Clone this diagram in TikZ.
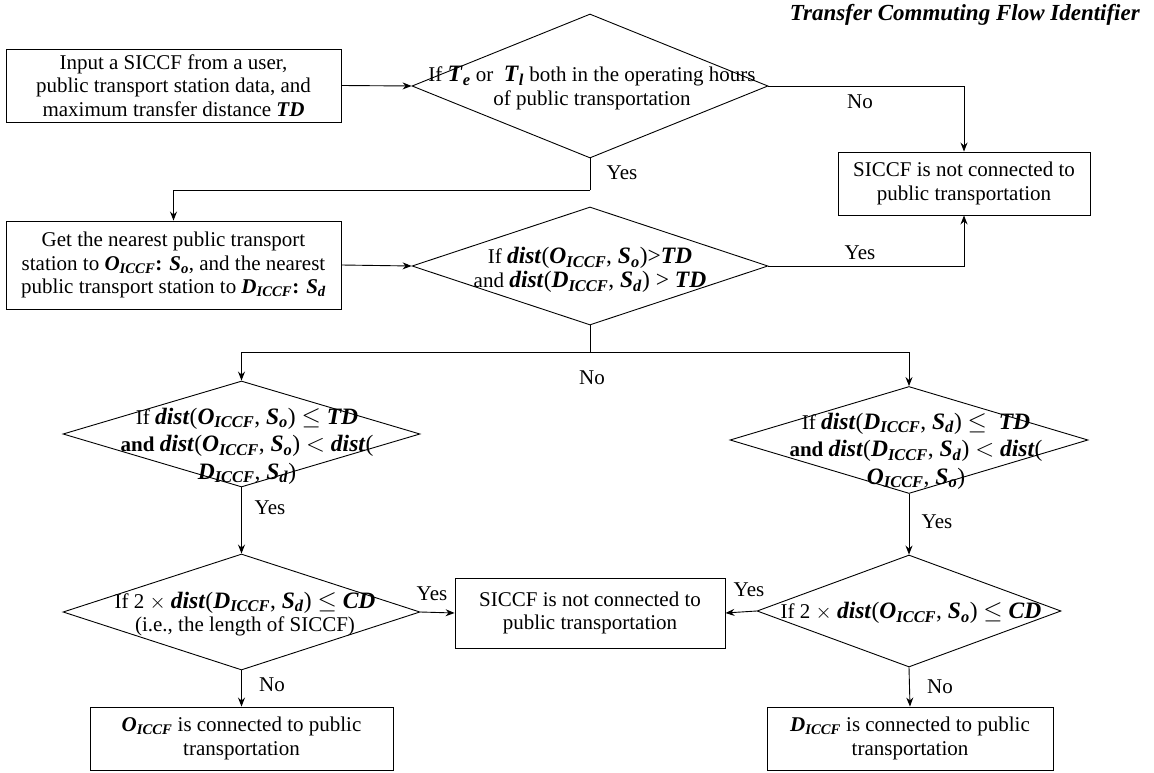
\documentclass[tikz,border=0pt]{standalone}
\usepackage{fontspec}
\setmainfont{Liberation Serif}
\usetikzlibrary{shapes.geometric,arrows.meta}

% bold italic variables used in the conditions
\newcommand\fcbi[1]{\textbf{\textit{#1}}}
\newcommand\fcsub[1]{\textsubscript{\fcbi{#1}}}
\newcommand\fcdist{\fcbi{dist}}
\newcommand\fcO{\fcbi{O}\fcsub{ICCF}}
\newcommand\fcD{\fcbi{D}\fcsub{ICCF}}
\newcommand\fcSo{\fcbi{S}\fcsub{o}}
\newcommand\fcSd{\fcbi{S}\fcsub{d}}
\newcommand\fcTD{\fcbi{TD}}
\newcommand\fcCD{\fcbi{CD}}
% formulas inside the decisions are set a little larger
\newcommand\fcm[1]{{\fontsize{23.5}{23.5}\selectfont #1}}

\tikzset{
  base/.style={font=\fontsize{21}{23.5}\selectfont},
  procbox/.style={base, draw, line width=0.9pt, align=center, inner sep=0pt},
  decide/.style={draw, diamond, line width=0.9pt, inner sep=0pt},
  dtext/.style={base, align=center, inner sep=0pt},
  tallrows/.style={font=\fontsize{21}{27.5}\selectfont},
  flow/.style={line width=0.9pt, -{Stealth[length=9pt,width=7pt,inset=3pt]}},
  link/.style={line width=0.9pt},
  tag/.style={base, inner sep=0pt}
}

\begin{document}
\begin{tikzpicture}[x=1pt,y=-1pt]
\useasboundingbox (0,0) rectangle (1154,773);

% title
\node[font=\fontsize{23}{26}\selectfont\bfseries\itshape, anchor=east, inner sep=0pt] (title) at (1140,15) {Transfer Commuting Flow Identifier};

% process boxes
\node[procbox, minimum width=335pt, minimum height=73pt] (b1) at (173.5,85.5)
  {Input a SICCF from a user,\\ public transport station data, and\\ maximum transfer distance \fcTD};
\node[procbox, minimum width=335pt, minimum height=88pt] (b2) at (173.5,265)
  {Get the nearest public transport\\ station to \fcO\textbf{:} \fcSo, and the nearest\\ public transport station to \fcD\textbf{:} \fcSd};
\node[procbox, minimum width=252pt, minimum height=63pt] (rb) at (964,183.5)
  {SICCF is not connected to\\ public transportation};
\node[procbox, minimum width=270pt, minimum height=70pt] (mb) at (590,613)
  {SICCF is not connected to\\ public transportation};
\node[procbox, minimum width=303pt, minimum height=63pt] (bl) at (241.5,738.5)
  {\fcO{} is connected to public\\ transportation};
\node[procbox, minimum width=286pt, minimum height=63pt] (br) at (910,738.5)
  {\fcD{} is connected to public\\ transportation};

% decisions
\node[decide, minimum width=356pt, minimum height=144pt] (d1) at (590,86) {};
\node[dtext] (d1t) at (592,88) {If \fcm{\fcbi{T}\fcsub{e}} or \ \fcm{\fcbi{T}\fcsub{l}} both in the operating hours\\ of public transportation};

\node[decide, minimum width=356pt, minimum height=118pt] (d2) at (590,266) {};
\node[dtext] (d2t) at (590,270) {If \fcm{\fcdist(\fcO, \fcSo)>\fcTD}\\ and \fcm{\fcdist(\fcD, \fcSd) > \fcTD}};

\node[decide, minimum width=357pt, minimum height=106pt] (d3) at (241.5,434) {};
\node[dtext, tallrows] (d3t) at (247,446) {If \fcm{\fcdist(\fcO, \fcSo) $\leq$ \fcTD}\\ \textbf{and} \fcm{\fcdist(\fcO, \fcSo) $<$ \fcdist(}\\ \fcm{\fcD, \fcSd)}};

\node[decide, minimum width=358pt, minimum height=107pt] (d4) at (909,440) {};
\node[dtext, tallrows] (d4t) at (916,451) {If \fcm{\fcdist(\fcD, \fcSd) $\leq$ \ \fcTD}\\ \textbf{and} \fcm{\fcdist(\fcD, \fcSd) $<$ \fcdist(}\\ \fcm{\fcO, \fcSo)}};

\node[decide, minimum width=357pt, minimum height=116pt] (d5) at (241.5,612) {};
\node[dtext] (d5t) at (245,614) {If 2 $\times$ \fcm{\fcdist(\fcD, \fcSd) $\leq$ \fcCD}\\ (i.e., the length of SICCF)};

\node[decide, minimum width=304pt, minimum height=112pt] (d6) at (909,611) {};
\node[dtext] (d6t) at (911,613) {If 2 $\times$ \fcm{\fcdist(\fcO, \fcSo) $\leq$ \fcCD}};

% junction points
\coordinate (j1) at (590,190);
\coordinate (j2) at (590,352);

% connectors
\draw[flow] (b1.east) -- (d1.west);
\draw[flow] (d1.east) -| (rb.north);
\draw[link] (d1.south) -- (j1);
\draw[flow] (j1) -| (b2.north);
\draw[flow] (b2.east) -- (d2.west);
\draw[flow] (d2.east) -| (rb.south);
\draw[link] (d2.south) -- (j2);
\draw[flow] (j2) -| (d3.north);
\draw[flow] (j2) -| (d4.north);
\draw[flow] (d3.south) -- (d5.north);
\draw[flow] (d4.south) -- (d6.north);
\draw[flow] (d5.east) -- (mb.west);
\draw[flow] (d6.west) -- (mb.east);
\draw[flow] (d5.south) -- (bl.north);
\draw[flow] (d6.south) -- (br.north);

% branch labels
\node[tag] (l1) at (860,102) {No};
\node[tag] (l2) at (622,173) {Yes};
\node[tag] (l3) at (860,253) {Yes};
\node[tag] (l4) at (592,378) {No};
\node[tag] (l5) at (270,508) {Yes};
\node[tag] (l6) at (937,522) {Yes};
\node[tag] (l7) at (432,594) {Yes};
\node[tag] (l8) at (749,590) {Yes};
\node[tag] (l9) at (272,685) {No};
\node[tag] (l10) at (940,687) {No};
\end{tikzpicture}
\end{document}
